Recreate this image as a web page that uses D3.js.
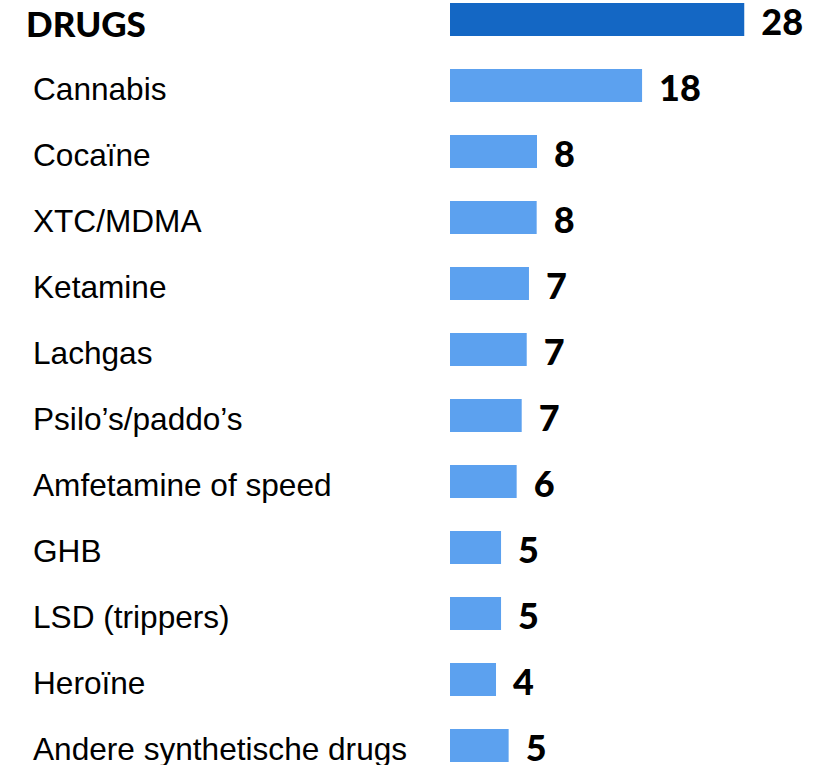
<!DOCTYPE html>
<html><head><meta charset="utf-8">
<script src="https://cdn.jsdelivr.net/npm/d3@7"></script>
<style>body{margin:0;background:#fff}svg{display:block}</style>
</head><body>
<script>
const categories = ["DRUGS","Cannabis","Cocaïne","XTC/MDMA","Ketamine","Lachgas","Psilo’s/paddo’s","Amfetamine of speed","GHB","LSD (trippers)","Heroïne","Andere synthetische drugs"];
const values = [27.5,17.95,8.13,8.1,7.38,7.17,6.7,6.23,4.77,4.77,4.3,5.48];
const valueLabels = ["28","18","8","8","7","7","7","6","5","5","4","5"];

const W = 825, H = 765;
const svg = d3.select("body").append("svg").attr("width", W).attr("height", H);
const x = d3.scaleLinear().domain([0, 30]).range([450, 771]);
const y = d3.scaleBand().domain(categories).range([-13.5, 778.5]).paddingInner(0.5).paddingOuter(0.25);

const rows = categories.map((c, i) => ({c, v: values[i], l: valueLabels[i], i}));

svg.selectAll("rect.bar").data(rows).enter().append("rect")
  .attr("class","bar")
  .attr("x", x(0))
  .attr("y", d => y(d.c))
  .attr("width", d => x(d.v) - x(0))
  .attr("height", y.bandwidth())
  .attr("fill", d => d.i === 0 ? "#1467c4" : "#5ca1ef");

svg.selectAll("text.cat").data(rows).enter().append("text")
  .attr("class","cat")
  .attr("x", d => d.i === 0 ? 26 : 33)
  .attr("y", d => y(d.c) + y.bandwidth() + (d.i === 0 ? 0.5 : -2))
  .attr("font-family", d => d.i === 0 ? "Lato, 'DejaVu Sans', sans-serif" : "'Liberation Sans', Arial, sans-serif")
  .attr("font-weight", d => d.i === 0 ? "900" : "normal")
  .attr("font-size", d => d.i === 0 ? "35px" : "31.6px")
  .attr("fill", "#000")
  .text(d => d.c);

svg.selectAll("text.val").data(rows).enter().append("text")
  .attr("class","val")
  .attr("x", d => x(d.v) + 17)
  .attr("y", d => y(d.c) + y.bandwidth() - 1.5)
  .attr("font-family", "Lato, 'DejaVu Sans', sans-serif")
  .attr("font-weight", "900")
  .attr("font-size", "36px")
  .attr("fill", "#000")
  .text(d => d.l);
</script>
</body></html>
